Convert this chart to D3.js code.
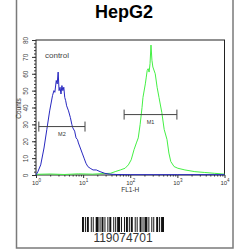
<!DOCTYPE html>
<html>
<head>
<meta charset="utf-8">
<script src="https://cdn.jsdelivr.net/npm/d3@7"></script>
<style>
  body { margin: 0; background: #fff; }
  svg { display: block; font-family: "Liberation Sans", Arial, sans-serif; }
</style>
</head>
<body>
<div id="chart"></div>
<script>
// HepG2 flow cytometry histogram (FL1-H vs Counts)

const title = "HepG2";
const xLabel = "FL1-H";
const yLabel = "Counts";
const yTicks = [0, 10, 20, 30, 40, 50, 60, 70, 80];
const xDecades = [0, 1, 2, 3, 4];

// control (blue): [log10 FL1-H, count]
const controlLog = [0.0, 0.04, 0.1, 0.17, 0.23, 0.29, 0.35, 0.38, 0.4, 0.43, 0.45, 0.47, 0.49, 0.51, 0.53, 0.55, 0.57, 0.59, 0.61, 0.63, 0.65, 0.69, 0.73, 0.76, 0.78, 0.82, 0.85, 0.88, 0.9, 0.94, 0.98, 1.02, 1.06, 1.1, 1.15, 1.21, 1.28, 1.36, 1.46, 1.56, 1.7, 2.0, 2.5, 3.0, 3.5, 4.0];
const controlCount = [0, 2, 6, 16, 27, 38, 47, 50, 49, 56, 54, 61, 50, 52, 48, 53, 50, 52, 46, 44, 41, 38, 34, 30, 28, 26, 22, 21, 19, 16, 13, 10, 7, 5, 4, 3, 3, 2, 1, 0.5, 0.3, 0.2, 0.2, 0.2, 0.2, 0.2];

// sample (green): [log10 FL1-H, count]
const sampleLog = [0.0, 0.3, 0.6, 0.9, 1.2, 1.4, 1.58, 1.68, 1.79, 1.89, 1.96, 2.02, 2.08, 2.13, 2.17, 2.21, 2.25, 2.27, 2.32, 2.34, 2.36, 2.38, 2.4, 2.42, 2.44, 2.46, 2.48, 2.53, 2.57, 2.61, 2.67, 2.72, 2.78, 2.82, 2.86, 2.93, 3.01, 3.16, 3.37, 3.58, 3.79, 4.0];
const sampleCount = [0.4, 0.6, 0.3, 0.7, 0.5, 0.8, 1, 2, 3, 4, 6, 9, 15, 19, 22, 30, 40, 46, 54, 58, 62, 63, 61, 66, 77, 68, 64, 60, 52, 46, 37, 27, 21, 13, 8, 5, 4, 3, 2, 1.5, 1, 0.5];

// gate markers
const markerNames = ["M2", "M1"];
const markerFrom = [0.06, 1.87];
const markerTo = [1.04, 2.99];
const markerCount = [28.7, 35.8];

const barcodeText = "119074701";
// alternating bar / space widths (px)
const barcodeWidths = [2,1,1,1,2,2,1,1,1,2,3,1,1,1,2,1,1,2,1,1,2,2,1,1,1,1,3,1,1,2,1,1,2,1,1,1,2,2,1,1,1,2,2,1,1,1,3,1,1,2,1,1,1,2,2,1,1,1,3];

const W = 250, H = 250;
const svg = d3.select("#chart").append("svg")
  .attr("width", W).attr("height", H);

// outer frame
svg.append("rect")
  .attr("x", 16.5).attr("y", -2).attr("width", 216.5).attr("height", 250)
  .attr("fill", "none").attr("stroke", "#7a7a7a").attr("stroke-width", 1.5);

svg.append("text")
  .attr("x", 124).attr("y", 17.5)
  .attr("text-anchor", "middle")
  .style("font-size", "18px").style("font-weight", "bold")
  .text(title);

const plot = { left: 36, right: 224.5, top: 40, bottom: 175 };

const x = d3.scaleLinear().domain([0, 4]).range([plot.left, plot.right]);
const y = d3.scaleLinear().domain([0, 80]).range([plot.bottom, plot.top]);

// plot frame
svg.append("rect")
  .attr("x", plot.left).attr("y", plot.top)
  .attr("width", plot.right - plot.left).attr("height", plot.bottom - plot.top)
  .attr("fill", "none").attr("stroke", "#222").attr("stroke-width", 1);

// y axis, minor ticks every 2
const yMinor = d3.range(0, 81, 2);
svg.append("g")
  .attr("transform", `translate(${plot.left},0)`)
  .call(d3.axisLeft(y).tickValues(yMinor).tickSize(2).tickFormat(""))
  .call(g => g.select(".domain").remove())
  .selectAll("line").attr("stroke", "#333");

const yAxis = svg.append("g")
  .attr("transform", `translate(${plot.left},0)`)
  .call(d3.axisLeft(y).tickValues(yTicks).tickSize(4).tickFormat(d3.format("d")));
yAxis.select(".domain").remove();
yAxis.selectAll("line").attr("stroke", "#333");
yAxis.selectAll("text")
  .attr("x", null).attr("dy", null).attr("y", 0)
  .attr("transform", "translate(-8,0) rotate(-90)")
  .attr("text-anchor", "middle")
  .style("font-size", "6.5px").attr("fill", "#444");

svg.append("text")
  .attr("transform", `translate(21,${(plot.top + plot.bottom) / 2 + 1}) rotate(-90)`)
  .attr("text-anchor", "middle")
  .style("font-size", "6.5px").attr("fill", "#333")
  .text(yLabel);

// x axis (log decades) with minor log ticks
const xMinor = [];
xDecades.slice(0, -1).forEach(d => {
  for (let k = 2; k < 10; k++) xMinor.push(d + Math.log10(k));
});
svg.append("g")
  .attr("transform", `translate(0,${plot.bottom})`)
  .call(d3.axisBottom(x).tickValues(xMinor).tickSize(1.5).tickFormat(""))
  .call(g => g.select(".domain").remove())
  .selectAll("line").attr("stroke", "#333");

const xAxis = svg.append("g")
  .attr("transform", `translate(0,${plot.bottom})`)
  .call(d3.axisBottom(x).tickValues(xDecades).tickSize(3).tickFormat(""));
xAxis.select(".domain").remove();
xAxis.selectAll("line").attr("stroke", "#333");
const xt = xAxis.selectAll(".tick").append("text")
  .attr("y", 9.5).attr("fill", "#333")
  .attr("text-anchor", "middle")
  .style("font-size", "6px");
xt.append("tspan").text("10");
xt.append("tspan").attr("dy", -2.5).style("font-size", "4.5px").text(d => d);

svg.append("text")
  .attr("x", x(2)).attr("y", 192)
  .attr("text-anchor", "middle")
  .style("font-size", "6.5px").attr("fill", "#333")
  .text(xLabel);

svg.append("text")
  .attr("x", 45).attr("y", 58)
  .style("font-size", "8px").attr("fill", "#444")
  .text("control");

// histograms
const line = d3.line().x(d => x(d[0])).y(d => y(d[1]));
const sample = sampleLog.map((v, i) => [v, sampleCount[i]]);
const control = controlLog.map((v, i) => [v, controlCount[i]]);

svg.append("path").datum(sample)
  .attr("d", line).attr("fill", "none")
  .attr("stroke", "#44f044").attr("stroke-width", 1);
svg.append("path").datum(control)
  .attr("d", line).attr("fill", "none")
  .attr("stroke", "#2828c0").attr("stroke-width", 1);

// markers
markerNames.forEach((name, i) => {
  const g = svg.append("g").attr("stroke", "#444").attr("stroke-width", 1);
  const yy = y(markerCount[i]);
  g.append("line").attr("x1", x(markerFrom[i])).attr("x2", x(markerTo[i]))
    .attr("y1", yy).attr("y2", yy);
  [markerFrom[i], markerTo[i]].forEach(v => {
    g.append("line").attr("x1", x(v)).attr("x2", x(v))
      .attr("y1", yy - 5).attr("y2", yy + 5);
  });
  svg.append("text")
    .attr("x", (x(markerFrom[i]) + x(markerTo[i])) / 2).attr("y", yy + 9)
    .attr("text-anchor", "middle")
    .style("font-size", "5.5px").attr("fill", "#333")
    .text(name);
});

// barcode
const total = d3.sum(barcodeWidths);
const bx = d3.scaleLinear().domain([0, total]).range([82, 164]);
let acc = 0;
const bars = [];
barcodeWidths.forEach((w, i) => {
  if (i % 2 === 0) bars.push([acc, w]);
  acc += w;
});
svg.append("g").selectAll("rect").data(bars).join("rect")
  .attr("x", d => bx(d[0])).attr("width", d => bx(d[0] + d[1]) - bx(d[0]))
  .attr("y", 217).attr("height", 15)
  .attr("fill", "#111");

svg.append("text")
  .attr("x", 123).attr("y", 242)
  .attr("text-anchor", "middle")
  .style("font-size", "12px").attr("fill", "#333")
  .text(barcodeText);
</script>
</body>
</html>
